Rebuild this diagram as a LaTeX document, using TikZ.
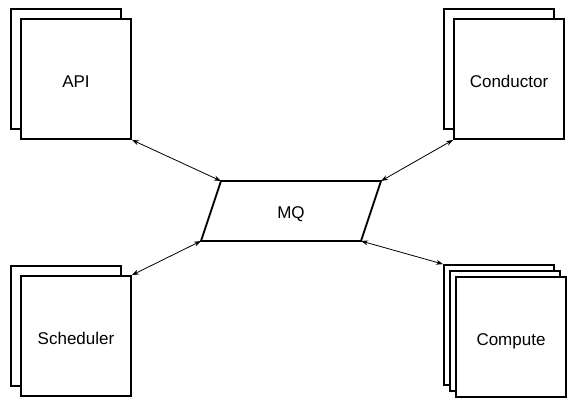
\documentclass[tikz,border=0pt]{standalone}
\usepackage{fontspec}
\setmainfont{Liberation Sans}
\usetikzlibrary{arrows.meta}
\tikzset{
    card/.style={draw,line width=1.8pt,fill=white,minimum width=110pt,minimum height=120pt,
        font=\fontsize{17}{20}\selectfont,text height=17pt,text depth=0pt},
    link/.style={line width=0.8pt,{Stealth[length=7pt,width=5pt]}-{Stealth[length=7pt,width=5pt]}}
}
\begin{document}
\begin{tikzpicture}[x=1pt,y=-1pt]
        \useasboundingbox (0,0) rectangle (575,408);
        %% stacked service boxes
        \node[card] (apiback) at (66,69) {};
        \node[card] (api) at (76,79) {API};
        \node[card] (condback) at (499,69) {};
        \node[card] (cond) at (509,79) {Conductor};
        \node[card] (schedback) at (66,326) {};
        \node[card] (sched) at (76,336) {Scheduler};
        \foreach \i/\n in {0/compback,6/compmid} {
            \node[card] (\n) at ({499+\i},{325+\i}) {};
        }
        \node[card] (comp) at (511,337) {Compute};
        %% message queue
        \coordinate (mqtl) at (221,181);
        \coordinate (mqtr) at (381,181);
        \coordinate (mqbr) at (361,241);
        \coordinate (mqbl) at (201,241);
        \draw[line width=1.8pt,line join=miter] (mqtl) -- (mqtr) -- (mqbr) -- (mqbl) -- cycle;
        \node[font=\fontsize{17}{20}\selectfont,text height=14pt,text depth=0pt] (mq) at (291,211) {MQ};
        %% links
        \draw[link] (api.south east) -- (mqtl);
        \draw[link] (cond.south west) -- (mqtr);
        \draw[link] (sched.north east) -- (mqbl);
        \draw[link] (compback.north west) -- (mqbr);
    \end{tikzpicture}
\end{document}
